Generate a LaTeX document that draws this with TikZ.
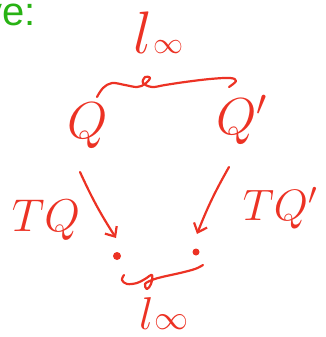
\RequirePackage{fix-cm}
\documentclass[tikz,border=0pt]{standalone}
\usepackage{fontspec}
\setsansfont{Liberation Sans}
\usetikzlibrary{arrows.meta}
\definecolor{pen}{RGB}{236,50,36}
\definecolor{grn}{RGB}{40,178,20}
\begin{document}
\begin{tikzpicture}[x=1pt,y=-1pt,
  ink/.style={draw=pen,line width=2.2pt,line cap=round,line join=round},
  arr/.style={ink,-{Straight Barb[length=8pt,width=14pt]}},
  hw/.style={text=pen,inner sep=0pt},
  pdot/.style={circle,fill=pen,inner sep=0pt,minimum size=#1}]
\useasboundingbox (0,0) rectangle (325,337);
% header fragment
\node[anchor=base east,text=grn,inner sep=0pt,font=\sffamily\fontsize{40}{40}\selectfont] (hdr) at (36,26) {ve:};
% top label
\node[hw,anchor=base west] (ltop) at (133,53) {{\fontsize{60}{60}\selectfont$l$}\kern1pt{\fontsize{30}{30}\selectfont$\infty$}};
% objects
\node[hw,font=\fontsize{52}{52}\selectfont] (Q) at (88,126) {$Q$};
\node[hw,font=\fontsize{52}{52}\selectfont] (Qp) at (242,120) {$Q'$};
% brace joining them
\draw[ink] plot[smooth,tension=0.6] coordinates {(97,97) (103,88) (112,83) (125,85) (137,87) (145,84) (150,78) (145,77) (143,83) (152,87) (165,85) (185,82) (210,79) (230,78) (236,81) (229,87)};
% dots
\node[pdot=8pt] (dL) at (117,256) {};
\node[pdot=7pt] (dR) at (196,252) {};
% arrows
\coordinate (sL) at (80,172);
\coordinate (tL) at (116,238);
\coordinate (sR) at (229,167);
\coordinate (tR) at (197,234);
\draw[arr] (sL) to[bend right=4] (tL);
\draw[arr] (sR) to[bend right=4] (tR);
% arrow labels
\node[hw,font=\fontsize{46}{46}\selectfont] (lTQ) at (46,220) {$TQ$};
\node[hw,font=\fontsize{44}{44}\selectfont] (lTQp) at (280,208) {$TQ'$};
% bottom squiggle
\draw[ink] plot[smooth,tension=0.6] coordinates {(124,275) (122,280) (127,284) (137,283) (145,279) (152,275) (151,284) (147,289) (145,284) (152,280) (162,277) (180,273) (195,269) (203,265)};
% bottom label
\node[hw,anchor=base west] (lbot) at (139,329) {{\fontsize{46}{46}\selectfont$l$}\kern1pt{\fontsize{34}{34}\selectfont$\infty$}};
\end{tikzpicture}
\end{document}
